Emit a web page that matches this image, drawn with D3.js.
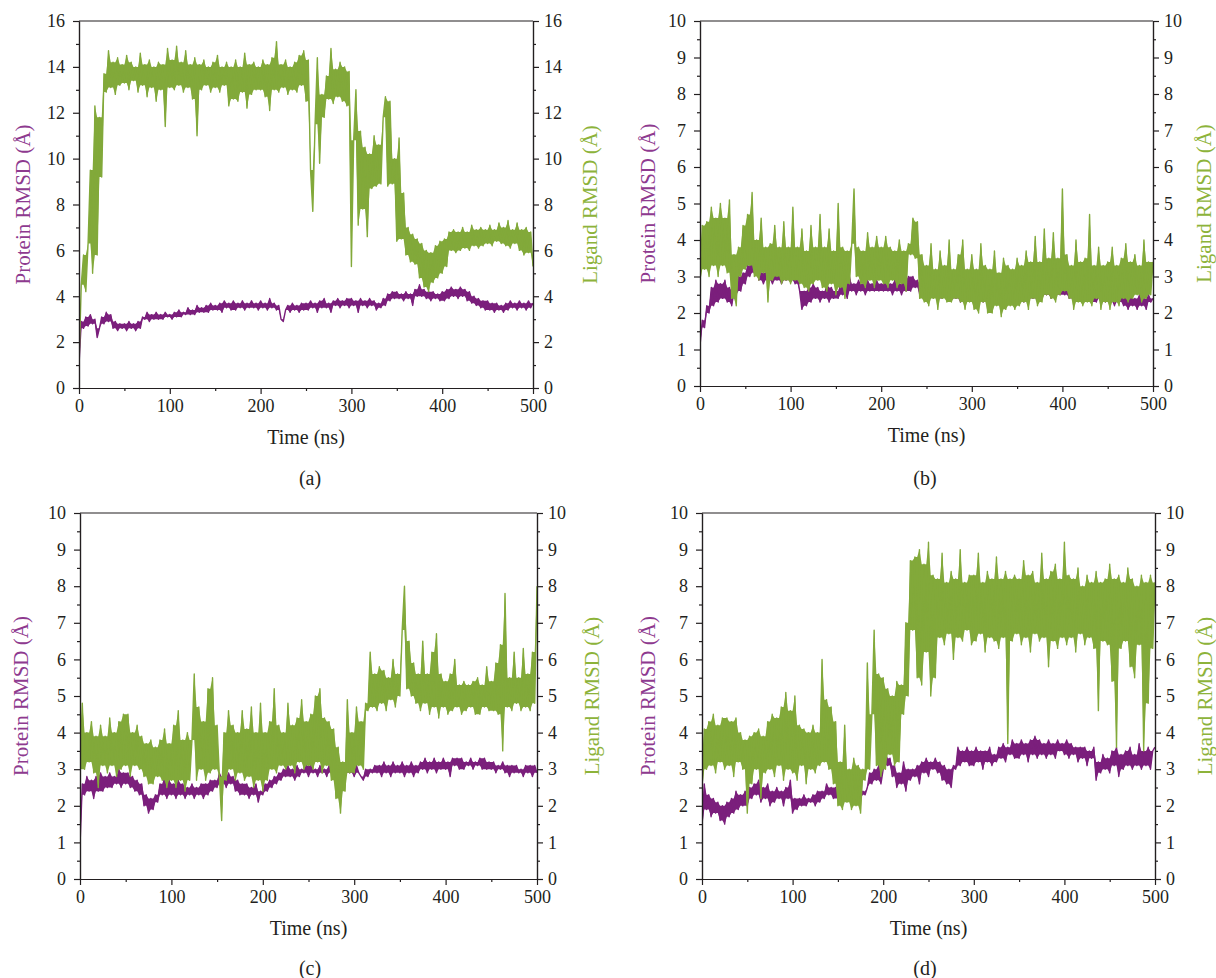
<!DOCTYPE html>
<html>
<head>
<meta charset="utf-8">
<script src="https://cdn.jsdelivr.net/npm/d3@7"></script>
<style>
  body { margin: 0; background: #fff; }
  .axis path, .axis line { stroke: #231f20; stroke-width: 1.2; }
  .axis text { fill: #231f20; }
</style>
</head>
<body>
<div id="chart"></div>
<script>
// sampling interval of the traces (ns)
const step = 2.5;

// (a) values in Å, one every 2.5 ns from 0 to 500 ns
const proteinA = [
  1.0, 2.9, 2.6, 3.1, 2.7, 3.2, 2.8, 3.0, 2.2, 2.6, 3.1, 2.8, 3.3, 2.9, 3.2, 2.6, 2.9, 2.5, 2.8, 2.6,
  2.8, 2.5, 2.9, 2.6, 2.8, 2.5, 2.9, 2.6, 3.1, 3.0, 3.3, 2.9, 3.2, 3.0, 3.3, 3.0, 3.2, 3.0, 3.3, 3.1,
  3.2, 3.0, 3.3, 3.1, 3.4, 3.1, 3.3, 3.2, 3.5, 3.2, 3.4, 3.2, 3.6, 3.3, 3.5, 3.3, 3.6, 3.3, 3.7, 3.4,
  3.6, 3.4, 3.7, 3.3, 3.8, 3.5, 3.7, 3.4, 3.8, 3.4, 3.7, 3.5, 3.8, 3.4, 3.7, 3.5, 3.8, 3.5, 3.7, 3.4,
  3.8, 3.5, 3.7, 3.4, 3.9, 3.5, 3.7, 3.4, 3.6, 3.0, 2.9, 3.4, 3.6, 3.3, 3.7, 3.4, 3.6, 3.3, 3.7, 3.4,
  3.7, 3.4, 3.8, 3.5, 3.7, 3.3, 3.8, 3.5, 3.9, 3.5, 3.7, 3.3, 3.8, 3.6, 3.9, 3.5, 3.8, 3.6, 3.9, 3.5,
  3.9, 3.6, 3.8, 3.3, 3.9, 3.6, 3.8, 3.5, 3.9, 3.6, 3.8, 3.4, 3.7, 3.5, 3.9, 3.6, 4.1, 3.8, 4.2, 3.9,
  4.2, 3.9, 4.1, 3.8, 4.2, 3.9, 4.1, 3.6, 4.3, 4.0, 4.5, 4.0, 4.3, 3.9, 4.2, 3.8, 4.2, 3.9, 4.1, 3.8,
  4.2, 3.8, 4.3, 3.9, 4.4, 4.0, 4.3, 3.9, 4.4, 4.0, 4.3, 3.8, 4.2, 3.7, 4.0, 3.6, 3.9, 3.5, 3.8, 3.4,
  3.8, 3.4, 3.7, 3.3, 3.7, 3.4, 3.6, 3.3, 3.7, 3.4, 3.8, 3.5, 3.7, 3.4, 3.8, 3.5, 3.7, 3.4, 3.8, 3.5,
  3.7
];
const ligandA = [
  1.0, 4.5, 5.8, 4.2, 6.3, 9.5, 5.0, 12.3, 5.8, 11.8, 9.2, 13.7, 12.9, 14.7, 13.1, 14.2, 12.8, 14.4, 13.2, 14.1,
  13.3, 14.5, 13.0, 14.2, 13.4, 14.0, 12.9, 14.6, 13.2, 14.1, 12.7, 14.3, 13.1, 14.0, 12.5, 14.2, 13.0, 14.1, 11.4, 14.8,
  13.1, 14.3, 13.0, 14.9, 13.2, 14.2, 12.9, 14.7, 13.1, 14.1, 12.6, 14.4, 11.0, 14.1, 13.0, 14.3, 13.2, 14.0, 12.9, 14.2,
  13.1, 14.5, 12.9, 14.0, 13.2, 14.2, 12.3, 14.0, 12.6, 14.3, 12.5, 14.0, 12.9, 14.6, 12.2, 14.1, 12.8, 14.2, 13.0, 14.0,
  13.0, 14.3, 12.7, 14.1, 12.1, 14.4, 13.0, 15.1, 12.9, 14.1, 13.1, 14.3, 12.8, 14.0, 13.0, 14.2, 12.9, 14.5, 13.2, 14.7,
  12.5, 14.3, 9.5, 7.7, 11.5, 14.4, 9.8, 12.8, 11.8, 13.6, 12.6, 14.8, 12.4, 13.9, 12.7, 14.2, 12.5, 14.0, 12.3, 13.8,
  5.3, 10.8, 13.0, 7.1, 11.2, 7.8, 10.5, 6.6, 10.2, 8.7, 11.0, 8.8, 10.6, 8.9, 11.8, 12.7, 8.8, 12.5, 8.9, 10.0,
  6.4, 10.9, 6.5, 8.5, 5.8, 7.0, 5.5, 6.7, 5.4, 6.5, 4.8, 6.3, 4.4, 6.0, 4.2, 5.9, 4.6, 6.2, 4.8, 6.4,
  5.0, 6.5, 5.3, 6.8, 6.0, 6.9, 5.9, 6.8, 6.0, 7.0, 6.1, 6.8, 6.0, 7.1, 6.2, 6.9, 6.1, 7.0, 6.2, 6.9,
  6.3, 7.1, 6.2, 6.9, 6.4, 7.2, 6.3, 7.0, 6.2, 7.3, 6.1, 6.9, 6.3, 7.2, 6.0, 6.9, 5.8, 7.0, 5.9, 6.8,
  5.3
];

// (b)
const proteinB = [
  1.1, 1.8, 1.6, 2.2, 2.0, 2.7, 2.2, 2.9, 2.3, 2.8, 2.4, 2.9, 2.3, 2.7, 2.2, 2.6, 2.5, 3.0, 2.6, 3.1,
  2.8, 3.3, 3.0, 3.4, 3.1, 3.5, 2.9, 3.1, 2.8, 3.1, 2.9, 3.0, 2.8, 3.1, 2.9, 3.1, 2.8, 3.0, 2.9, 3.1,
  2.9, 3.0, 2.8, 3.0, 2.6, 2.1, 2.6, 2.2, 2.7, 2.3, 2.8, 2.4, 2.7, 2.3, 2.6, 2.4, 2.8, 2.3, 2.7, 2.4,
  2.6, 2.4, 2.8, 2.5, 2.9, 2.4, 3.0, 2.6, 2.8, 2.5, 2.9, 2.6, 2.8, 2.5, 2.9, 2.6, 2.8, 2.6, 2.9, 2.6,
  2.8, 2.6, 2.9, 2.6, 2.8, 2.5, 2.9, 2.6, 2.8, 2.5, 2.9, 2.6, 3.0, 2.6, 3.0, 2.7, 2.9, 2.5, 2.8, 2.4,
  2.7, 2.4, 2.8, 2.5, 2.7, 2.4, 2.6, 2.4, 2.7, 2.5, 2.6, 2.4, 2.7, 2.4, 2.6, 2.3, 2.7, 2.4, 2.6, 2.4,
  2.6, 2.3, 2.7, 2.4, 2.6, 2.3, 2.7, 2.4, 2.6, 2.4, 2.7, 2.3, 2.6, 2.4, 2.7, 2.3, 2.6, 2.4, 2.7, 2.4,
  2.6, 2.4, 2.7, 2.3, 2.6, 2.4, 2.7, 2.4, 2.6, 2.4, 2.7, 2.4, 2.8, 2.5, 2.7, 2.4, 2.8, 2.5, 2.7, 2.5,
  2.9, 2.5, 2.8, 2.4, 2.6, 2.4, 2.7, 2.4, 2.6, 2.3, 2.7, 2.4, 2.6, 2.3, 2.6, 2.3, 2.7, 2.4, 2.6, 2.3,
  2.6, 2.3, 2.5, 2.2, 2.6, 2.3, 2.5, 2.2, 2.5, 2.1, 2.5, 2.2, 2.4, 2.1, 2.5, 2.2, 2.4, 2.1, 2.5, 2.3,
  2.4
];
const ligandB = [
  2.8, 4.4, 3.2, 4.5, 3.0, 4.9, 3.3, 4.6, 3.0, 5.0, 3.3, 4.6, 3.1, 5.1, 2.4, 3.6, 2.2, 3.8, 3.0, 4.4,
  3.2, 4.7, 3.3, 5.3, 3.0, 4.0, 2.9, 4.6, 3.1, 3.8, 2.3, 3.9, 2.9, 4.4, 3.0, 3.8, 2.8, 4.5, 2.9, 3.8,
  2.8, 4.9, 2.9, 3.8, 2.8, 4.3, 2.7, 3.7, 2.6, 4.4, 2.8, 3.8, 2.9, 4.7, 2.7, 3.8, 2.6, 4.3, 2.8, 3.7,
  2.5, 5.0, 2.7, 3.8, 2.4, 3.7, 2.8, 3.9, 5.4, 3.0, 3.8, 2.8, 3.7, 2.7, 4.2, 2.9, 3.8, 2.7, 4.1, 2.9,
  3.8, 2.8, 4.1, 2.7, 3.8, 2.9, 3.7, 2.7, 4.0, 2.8, 3.7, 2.6, 3.9, 3.6, 4.6, 3.5, 4.5, 2.4, 3.6, 2.3,
  3.3, 2.2, 3.9, 2.4, 3.2, 2.1, 3.7, 2.4, 3.3, 2.3, 4.0, 2.3, 3.2, 2.4, 3.6, 2.3, 4.0, 2.1, 3.2, 2.3,
  3.6, 2.1, 3.2, 2.0, 3.9, 2.3, 3.3, 2.0, 3.2, 2.0, 3.7, 2.2, 3.1, 1.9, 3.5, 2.1, 3.3, 2.2, 3.2, 2.1,
  3.5, 2.2, 3.3, 2.3, 3.7, 2.1, 3.4, 2.4, 4.1, 2.2, 3.4, 2.3, 4.3, 2.5, 3.5, 2.4, 4.2, 2.3, 3.5, 2.5,
  5.4, 2.6, 3.6, 2.4, 3.3, 2.1, 4.0, 2.3, 3.4, 2.2, 3.5, 2.3, 4.7, 2.2, 3.3, 2.4, 3.8, 2.1, 3.3, 2.3,
  3.4, 2.1, 3.8, 2.3, 3.3, 2.2, 3.5, 2.4, 3.9, 2.3, 3.4, 2.4, 3.6, 2.5, 3.3, 2.3, 4.0, 2.4, 3.4, 2.5,
  3.4
];

// (c)
const proteinC = [
  0.9, 2.6, 2.3, 2.8, 2.4, 2.7, 2.2, 2.8, 2.4, 2.9, 2.4, 2.8, 2.5, 2.9, 2.5, 2.8, 2.6, 3.0, 2.5, 2.9,
  2.6, 2.9, 2.5, 2.8, 2.4, 2.7, 2.3, 2.6, 2.0, 2.3, 1.8, 2.2, 1.9, 2.3, 2.1, 2.6, 2.3, 2.8, 2.2, 2.7,
  2.3, 2.6, 2.2, 2.7, 2.3, 2.6, 2.2, 2.5, 2.3, 2.6, 2.2, 2.5, 2.3, 2.6, 2.2, 2.6, 2.3, 2.7, 2.4, 2.7,
  2.5, 2.9, 2.6, 2.8, 2.5, 2.9, 2.6, 2.8, 2.4, 2.7, 2.3, 2.6, 2.3, 2.6, 2.2, 2.5, 2.3, 2.6, 2.1, 2.4,
  2.3, 2.6, 2.4, 2.7, 2.5, 2.8, 2.6, 2.9, 2.7, 3.0, 2.8, 3.1, 2.8, 3.0, 2.7, 3.1, 2.8, 3.0, 2.9, 3.1,
  2.8, 3.1, 2.9, 3.0, 2.8, 3.1, 2.9, 3.0, 2.8, 3.1, 2.9, 3.0, 2.8, 3.1, 2.9, 3.0, 2.8, 3.1, 2.9, 3.0,
  2.8, 3.1, 2.9, 2.8, 2.7, 3.0, 2.8, 3.0, 2.9, 3.1, 2.9, 3.1, 2.8, 3.2, 2.9, 3.1, 2.8, 3.2, 2.9, 3.1,
  2.9, 3.2, 2.8, 3.1, 2.9, 3.2, 2.8, 3.1, 2.9, 3.2, 3.0, 3.3, 2.9, 3.2, 3.0, 3.3, 2.9, 3.2, 3.0, 3.3,
  3.0, 3.2, 2.8, 3.3, 3.1, 3.3, 3.0, 3.3, 3.0, 3.2, 3.1, 3.3, 3.0, 3.2, 3.1, 3.3, 3.0, 3.3, 3.0, 3.2,
  3.0, 3.2, 2.9, 3.1, 3.0, 3.2, 2.9, 3.1, 2.8, 3.1, 2.9, 3.1, 2.9, 3.0, 2.8, 3.1, 2.9, 3.1, 2.8, 3.1,
  2.9
];
const ligandC = [
  3.0, 4.8, 3.0, 4.0, 3.2, 4.3, 2.9, 3.9, 2.5, 4.2, 3.1, 3.9, 2.9, 4.4, 3.1, 4.0, 2.8, 4.3, 3.0, 4.5,
  3.1, 4.5, 2.8, 4.0, 3.1, 4.2, 3.0, 3.9, 2.8, 3.7, 2.6, 3.8, 2.6, 3.6, 2.8, 3.8, 2.7, 4.1, 2.5, 3.7,
  2.7, 4.2, 2.5, 4.6, 2.7, 3.8, 2.4, 4.0, 2.7, 3.8, 5.6, 2.7, 4.7, 3.0, 4.3, 2.7, 5.2, 2.9, 5.5, 3.0,
  4.2, 2.8, 1.6, 4.0, 2.7, 4.6, 3.0, 4.2, 2.7, 4.0, 2.9, 4.6, 2.7, 4.1, 2.8, 4.7, 2.5, 4.0, 2.7, 4.8,
  2.4, 4.0, 2.7, 4.3, 3.0, 5.2, 2.9, 4.2, 3.1, 4.0, 3.0, 4.8, 3.1, 4.2, 2.9, 4.4, 3.2, 4.9, 3.0, 4.3,
  3.1, 4.5, 3.0, 5.0, 3.2, 5.2, 2.9, 4.4, 3.1, 4.3, 2.7, 4.1, 2.2, 3.6, 1.8, 3.2, 2.4, 4.9, 2.9, 4.0,
  2.9, 4.7, 3.1, 4.3, 3.0, 4.8, 4.6, 6.2, 4.7, 5.6, 4.6, 5.8, 4.8, 5.7, 4.6, 5.5, 4.9, 6.0, 4.7, 5.6,
  5.0, 6.8, 8.0, 5.2, 6.5, 5.0, 5.9, 4.8, 5.6, 4.6, 6.5, 4.8, 5.6, 4.5, 6.2, 4.7, 6.7, 4.4, 5.6, 4.7,
  5.4, 4.5, 5.6, 4.6, 6.0, 4.7, 5.3, 4.5, 5.4, 4.6, 5.3, 4.7, 5.4, 4.5, 5.5, 4.5, 5.3, 4.7, 5.8, 4.6,
  5.4, 4.6, 5.9, 4.5, 6.4, 3.5, 7.8, 4.7, 5.5, 4.6, 6.2, 4.8, 5.5, 4.6, 6.3, 4.7, 5.6, 4.6, 6.2, 4.8,
  8.0
];

// (d)
const proteinD = [
  1.4, 2.6, 1.9, 2.3, 1.7, 2.2, 1.8, 2.1, 1.6, 2.0, 1.5, 2.1, 1.7, 2.2, 1.8, 2.4, 1.9, 2.3, 2.0, 2.4,
  2.0, 2.5, 2.2, 2.6, 2.3, 2.7, 2.1, 2.5, 2.2, 2.6, 2.0, 2.4, 2.1, 2.5, 2.2, 2.4, 2.0, 2.5, 2.2, 2.7,
  1.8, 2.2, 1.9, 2.2, 2.0, 2.3, 2.0, 2.2, 2.1, 2.3, 2.0, 2.4, 2.1, 2.4, 2.2, 2.6, 2.3, 2.5, 2.2, 2.5,
  2.2, 2.4, 2.1, 2.3, 2.2, 2.4, 2.1, 2.3, 2.2, 2.4, 2.2, 2.4, 2.3, 2.5, 2.9, 2.6, 3.0, 2.7, 3.1, 2.6,
  3.0, 3.5, 3.1, 3.3, 2.8, 3.1, 2.5, 2.9, 2.6, 3.2, 2.4, 3.0, 2.7, 3.0, 2.8, 3.1, 2.6, 3.2, 2.9, 3.3,
  2.8, 3.2, 3.0, 3.3, 2.9, 3.2, 2.7, 3.1, 2.6, 3.0, 2.5, 3.1, 3.0, 3.6, 3.1, 3.5, 3.2, 3.6, 3.1, 3.5,
  3.1, 3.6, 3.2, 3.5, 3.0, 3.5, 3.2, 3.6, 3.1, 3.4, 3.2, 3.6, 3.3, 3.7, 3.2, 3.6, 3.4, 3.8, 3.3, 3.7,
  3.3, 3.8, 3.4, 3.7, 3.2, 3.8, 3.4, 3.9, 3.3, 3.8, 3.4, 3.7, 3.3, 3.8, 3.4, 3.7, 3.3, 3.8, 3.5, 3.7,
  3.4, 3.8, 3.3, 3.7, 3.4, 3.6, 3.2, 3.6, 3.3, 3.6, 3.1, 3.5, 3.3, 3.6, 2.7, 3.2, 2.9, 3.4, 3.0, 3.3,
  2.9, 3.5, 3.1, 3.6, 2.8, 3.4, 3.0, 3.5, 3.1, 3.6, 3.0, 3.4, 3.1, 3.7, 3.0, 3.5, 3.1, 3.6, 3.0, 3.5,
  3.6
];
const ligandD = [
  2.4, 4.1, 3.0, 4.3, 3.1, 4.5, 2.9, 4.2, 3.2, 4.4, 3.0, 4.4, 3.1, 4.3, 2.8, 4.4, 3.2, 4.0, 3.0, 3.8,
  1.8, 3.9, 2.6, 4.0, 3.0, 4.1, 2.2, 3.9, 2.9, 4.3, 3.0, 4.5, 2.8, 4.4, 3.1, 4.7, 2.7, 5.1, 3.0, 4.6,
  2.9, 5.0, 2.7, 4.2, 3.1, 4.1, 2.6, 4.0, 3.0, 4.2, 2.9, 4.0, 3.1, 6.0, 3.2, 4.9, 3.0, 4.7, 2.6, 4.3,
  2.0, 3.2, 1.9, 4.2, 2.1, 3.0, 1.9, 3.3, 2.0, 3.1, 1.8, 3.0, 2.7, 5.9, 3.0, 4.5, 6.8, 3.1, 5.6, 2.8,
  5.5, 3.0, 5.2, 3.4, 5.0, 3.1, 5.4, 3.2, 5.3, 4.5, 7.0, 5.0, 8.7, 6.8, 8.8, 5.5, 9.0, 5.3, 8.6, 6.2,
  9.2, 5.0, 8.3, 5.5, 8.2, 6.6, 8.9, 6.4, 8.1, 6.7, 8.4, 6.0, 8.2, 6.6, 9.0, 6.5, 8.1, 6.8, 8.3, 6.4,
  8.3, 6.5, 8.9, 6.7, 8.1, 6.2, 8.4, 6.6, 8.2, 6.5, 8.8, 6.3, 8.2, 6.6, 8.4, 3.7, 8.2, 6.5, 8.3, 6.7,
  8.2, 6.4, 8.7, 6.6, 8.3, 6.2, 8.4, 6.7, 8.1, 6.5, 8.9, 6.6, 8.2, 5.8, 8.4, 6.5, 8.6, 6.3, 8.2, 6.6,
  9.2, 6.4, 8.3, 6.6, 8.2, 6.2, 8.5, 6.7, 8.0, 6.4, 8.3, 6.6, 8.1, 6.3, 8.4, 4.6, 8.1, 6.5, 8.2, 6.4,
  8.6, 5.4, 8.2, 3.6, 8.3, 6.3, 8.1, 6.5, 8.5, 5.8, 8.2, 5.5, 8.0, 6.4, 8.3, 3.5, 8.1, 4.8, 8.3, 6.3,
  8.1
];

// axis ranges and tick labels
const xTicks = [0, 100, 200, 300, 400, 500];
const yTicksA = [0, 2, 4, 6, 8, 10, 12, 14, 16];
const yTicksBCD = [0, 1, 2, 3, 4, 5, 6, 7, 8, 9, 10];
const panelLabels = ["(a)", "(b)", "(c)", "(d)"];

const serif = "Liberation Serif";
const proteinColor = "#7b1f7c";
const ligandColor = "#82a93a";
const proteinTitle = "#8e3a8f";
const ligandTitle = "#8db33a";

const svg = d3.select("#chart").append("svg")
  .attr("width", 1216)
  .attr("height", 978);

const panels = [
  { protein: proteinA, ligand: ligandA, yTicks: yTicksA, minorY: 1, l: 79, r: 533, t: 21, b: 388, lt: 23, rt: 590, cx: 310, ly: 478 },
  { protein: proteinB, ligand: ligandB, yTicks: yTicksBCD, minorY: 0.5, l: 700, r: 1153, t: 21, b: 386, lt: 648, rt: 1204, cx: 925, ly: 478 },
  { protein: proteinC, ligand: ligandC, yTicks: yTicksBCD, minorY: 0.5, l: 80, r: 537, t: 513, b: 879, lt: 21, rt: 592, cx: 310, ly: 968 },
  { protein: proteinD, ligand: ligandD, yTicks: yTicksBCD, minorY: 0.5, l: 702, r: 1155, t: 513, b: 879, lt: 648, rt: 1205, cx: 925, ly: 968 }
];

// the traces swing up and down on every sample; fill the gaps between
// the swings so the dense part reads as a solid band, single spikes stay thin
function bandUpper(v) {
  return v.map((d, k) => (k === 0 || k === v.length - 1) ? d : Math.max(d, Math.min(v[k - 1], v[k + 1])));
}
function bandLower(v) {
  return v.map((d, k) => (k === 0 || k === v.length - 1) ? d : Math.min(d, Math.max(v[k - 1], v[k + 1])));
}

panels.forEach((p, i) => {
  const yMax = p.yTicks[p.yTicks.length - 1];
  const x = d3.scaleLinear().domain([0, 500]).range([p.l, p.r]);
  const y = d3.scaleLinear().domain([0, yMax]).range([p.b, p.t]);
  const g = svg.append("g");

  const clipId = "clip" + i;
  g.append("clipPath").attr("id", clipId)
    .append("rect").attr("x", p.l).attr("y", p.t).attr("width", p.r - p.l).attr("height", p.b - p.t);

  const line = d3.line()
    .x((d, k) => x(k * step))
    .y(d => y(d));

  const drawTrace = (vals, color) => {
    const up = bandUpper(vals), lo = bandLower(vals);
    g.append("path")
      .datum(vals)
      .attr("clip-path", `url(#${clipId})`)
      .attr("fill", color)
      .attr("d", d3.area()
        .x((d, k) => x(k * step))
        .y0((d, k) => y(lo[k]))
        .y1((d, k) => y(up[k])));
    g.append("path")
      .datum(vals)
      .attr("clip-path", `url(#${clipId})`)
      .attr("fill", "none")
      .attr("stroke", color)
      .attr("stroke-width", 1.4)
      .attr("stroke-linejoin", "round")
      .attr("d", line);
  };

  // protein first, ligand drawn on top of it
  drawTrace(p.protein, proteinColor);
  drawTrace(p.ligand, ligandColor);

  // minor tick values
  const minorX = d3.range(0, 500.1, 50).filter(v => v % 100 !== 0);
  const minorYv = d3.range(0, yMax + 0.01, p.minorY).filter(v => !p.yTicks.includes(v));

  const styleAxis = sel => sel.attr("font-family", serif).attr("font-size", 18);

  // bottom axis
  g.append("g").attr("class", "axis")
    .attr("transform", `translate(0,${p.b})`)
    .call(d3.axisBottom(x).tickValues(xTicks).tickSize(6).tickPadding(5).tickSizeOuter(0))
    .call(styleAxis);
  g.append("g").attr("class", "axis")
    .attr("transform", `translate(0,${p.b})`)
    .call(d3.axisBottom(x).tickValues(minorX).tickSize(3).tickFormat("").tickSizeOuter(0));

  // left axis
  g.append("g").attr("class", "axis")
    .attr("transform", `translate(${p.l},0)`)
    .call(d3.axisLeft(y).tickValues(p.yTicks).tickSize(6).tickPadding(8).tickSizeOuter(0))
    .call(styleAxis);
  g.append("g").attr("class", "axis")
    .attr("transform", `translate(${p.l},0)`)
    .call(d3.axisLeft(y).tickValues(minorYv).tickSize(3).tickFormat("").tickSizeOuter(0));

  // right axis
  g.append("g").attr("class", "axis")
    .attr("transform", `translate(${p.r},0)`)
    .call(d3.axisRight(y).tickValues(p.yTicks).tickSize(6).tickPadding(5).tickSizeOuter(0))
    .call(styleAxis);
  g.append("g").attr("class", "axis")
    .attr("transform", `translate(${p.r},0)`)
    .call(d3.axisRight(y).tickValues(minorYv).tickSize(3).tickFormat("").tickSizeOuter(0));

  // top frame line
  g.append("line")
    .attr("x1", p.l).attr("x2", p.r).attr("y1", p.t).attr("y2", p.t)
    .attr("stroke", "#231f20").attr("stroke-width", 1.2);

  // axis titles
  g.append("text")
    .attr("x", (p.l + p.r) / 2).attr("y", p.b + 56)
    .attr("text-anchor", "middle")
    .attr("font-family", serif)
    .attr("font-size", 20).attr("fill", "#231f20")
    .text("Time (ns)");

  const midY = (p.t + p.b) / 2;
  g.append("text")
    .attr("transform", `translate(${p.lt},${midY}) rotate(-90)`)
    .attr("text-anchor", "middle").attr("dominant-baseline", "central")
    .attr("font-family", serif)
    .attr("font-size", 21).attr("fill", proteinTitle)
    .text("Protein RMSD (Å)");

  g.append("text")
    .attr("transform", `translate(${p.rt},${midY}) rotate(-90)`)
    .attr("text-anchor", "middle").attr("dominant-baseline", "central")
    .attr("font-family", serif)
    .attr("font-size", 21).attr("fill", ligandTitle)
    .text("Ligand RMSD (Å)");

  g.append("text")
    .attr("x", p.cx).attr("y", p.ly)
    .attr("text-anchor", "middle").attr("dominant-baseline", "central")
    .attr("font-family", serif)
    .attr("font-size", 20).attr("fill", "#231f20")
    .text(panelLabels[i]);
});
</script>
</body>
</html>
